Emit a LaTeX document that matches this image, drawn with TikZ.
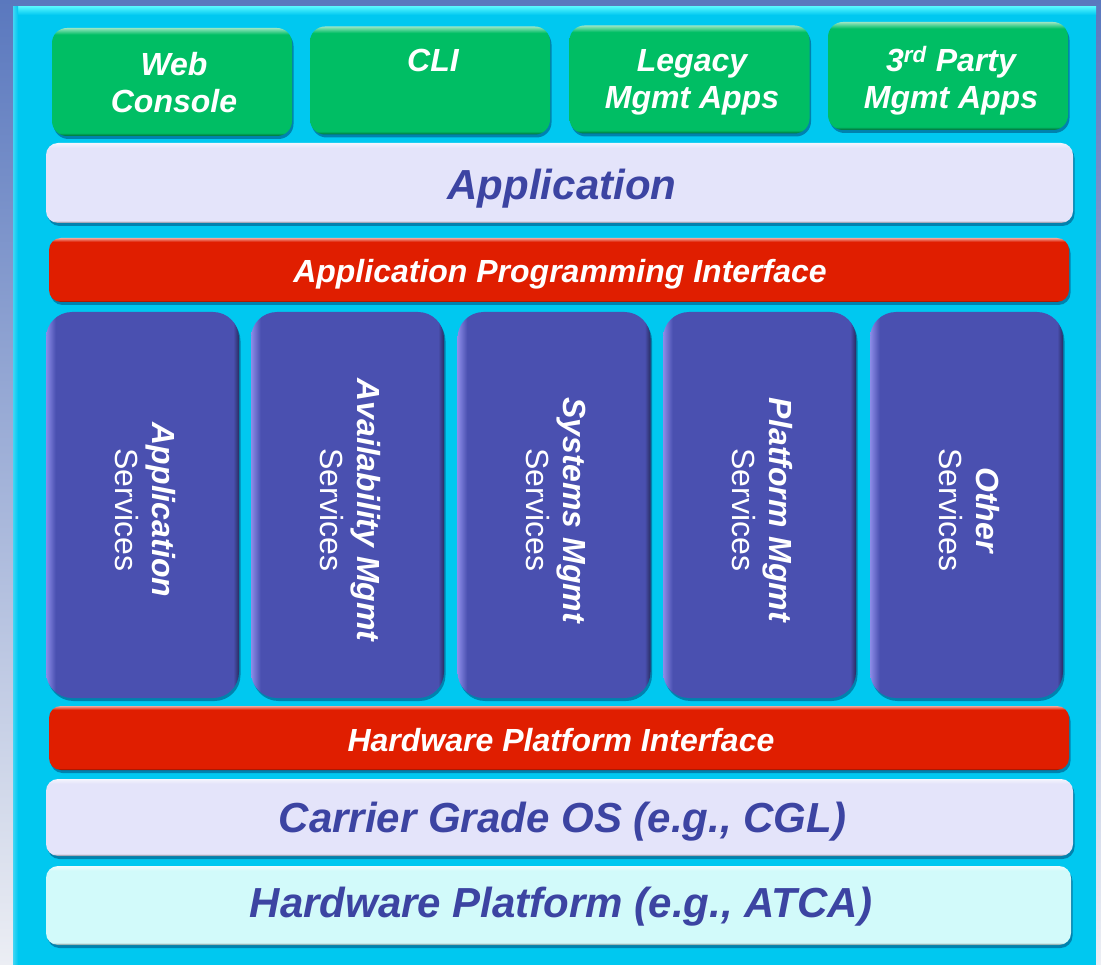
\documentclass[tikz,border=0pt]{standalone}
\usepackage{fontspec}
\setmainfont{Liberation Sans}
\usetikzlibrary{shadows}

\definecolor{slate}{HTML}{5A78BE}
\definecolor{mist}{HTML}{ECEEF4}
\definecolor{panel}{HTML}{00C8F0}
\definecolor{panelrim}{HTML}{50F4FF}
\definecolor{appgreen}{HTML}{00BE64}
\definecolor{apired}{HTML}{E01E00}
\definecolor{svcblue}{HTML}{4A50B0}
\definecolor{svclight}{HTML}{8C8CE8}
\definecolor{lavender}{HTML}{E4E4FA}
\definecolor{icecyan}{HTML}{D2FAFA}
\definecolor{inkblue}{HTML}{3C44A2}

% light rim on top, dark rim at the bottom (25bp..75bp is the node)
\newcommand{\bevelshading}[2]{%
  \pgfdeclareverticalshading{#1}{100bp}{color(0bp)=(#2!55!black); color(25bp)=(#2!55!black);
    color(26.5bp)=(#2); color(72bp)=(#2); color(75bp)=(#2!40!white); color(100bp)=(#2!40!white)}}
\bevelshading{greenbevel}{appgreen}
\bevelshading{redbevel}{apired}
\bevelshading{lavbevel}{lavender}
\bevelshading{icebevel}{icecyan}
\pgfdeclarehorizontalshading{svcbevel}{100bp}{color(0bp)=(svclight); color(25bp)=(svclight);
  color(27.5bp)=(svcblue); color(73.5bp)=(svcblue); color(75bp)=(svcblue!55!black); color(100bp)=(svcblue!55!black)}

\tikzset{
  boxshadow/.style={drop shadow={shadow xshift=1.5pt, shadow yshift=-3pt, opacity=.35, fill=black!80!blue}},
  tile/.style={shading=greenbevel, boxshadow, rounded corners=15pt, inner sep=0pt,
    minimum width=240pt, minimum height=108pt},
  bar/.style={shading=#1, boxshadow, rounded corners=12pt, inner sep=0pt},
  column/.style={shading=svcbevel, boxshadow, rounded corners=26pt, inner sep=0pt,
    minimum width=193pt, minimum height=386pt},
  lbl/.style={font=\fontsize{32}{37}\selectfont\bfseries\itshape, text=white, align=center, inner sep=0pt},
  biglbl/.style={font=\fontsize{42}{48}\selectfont\bfseries\itshape, text=inkblue, inner sep=0pt, anchor=base},
  svclbl/.style={font=\fontsize{32}{37}\selectfont, text=white, align=center, inner sep=0pt, rotate=-90},
}

\begin{document}
\begin{tikzpicture}[x=1pt,y=-1pt]
\useasboundingbox (0,0) rectangle (1101,965);
% backdrop and cyan panel
\shade[top color=slate, bottom color=mist] (0,0) rectangle (1101,965);
\fill[panel] (13,7) rectangle (1096,965);
\shade[top color=panelrim, bottom color=panel] (13,7) rectangle (1096,15);
\shade[left color=panel!75!white, right color=panel] (13,7) rectangle (18,965);

% management front ends
\node[tile] (web) at (172,82) {};
\node[tile] (cli) at (430,80.5) {};
\node[tile] (legacy) at (689.5,79.5) {};
\node[tile] (third) at (948,76) {};
\node[lbl, anchor=north] (webtxt) at (174,52) {Web\\Console};
\node[lbl, anchor=north] (clitxt) at (433,49) {CLI};
\node[lbl, anchor=north] (legacytxt) at (692,49) {Legacy\\Mgmt Apps};
\node[lbl, anchor=north] (thirdtxt) at (951,46) {3\textsuperscript{rd} Party\\Mgmt Apps};

% application layer and interfaces
\node[bar=lavbevel, minimum width=1027pt, minimum height=80pt] (app) at (559.5,183) {};
\node[biglbl] (apptxt) at (562,200) {Application};
\node[bar=redbevel, minimum width=1020pt, minimum height=64pt] (api) at (559,270) {};
\node[lbl, anchor=base] (apitxt) at (560,283) {Application Programming Interface};

% service columns
\node[column] (appsvc) at (142.5,505) {};
\node[column] (availsvc) at (347.5,505) {};
\node[column] (syssvc) at (554,505) {};
\node[column] (platsvc) at (759.5,505) {};
\node[column] (othersvc) at (966.5,505) {};
\node[svclbl] (appsvctxt) at (145,510) {{\bfseries\itshape Application}\\Services};
\node[svclbl] (availsvctxt) at (350,510) {{\bfseries\itshape Availability Mgmt}\\Services};
\node[svclbl] (syssvctxt) at (556.5,510) {{\bfseries\itshape Systems Mgmt}\\Services};
\node[svclbl] (platsvctxt) at (762,510) {{\bfseries\itshape Platform Mgmt}\\Services};
\node[svclbl] (othersvctxt) at (969,510) {{\bfseries\itshape Other}\\Services};

% platform layers
\node[bar=redbevel, minimum width=1020pt, minimum height=64pt] (hpi) at (559,738) {};
\node[lbl, anchor=base] (hpitxt) at (561,751) {Hardware Platform Interface};
\node[bar=lavbevel, minimum width=1027pt, minimum height=77pt] (os) at (559.5,817.5) {};
\node[biglbl] (ostxt) at (562.5,832) {Carrier Grade OS (e.g., CGL)};
\node[bar=icebevel, minimum width=1025pt, minimum height=79pt] (hw) at (558.5,905.5) {};
\node[biglbl] (hwtxt) at (561,917) {Hardware Platform (e.g., ATCA)};
\end{tikzpicture}
\end{document}
